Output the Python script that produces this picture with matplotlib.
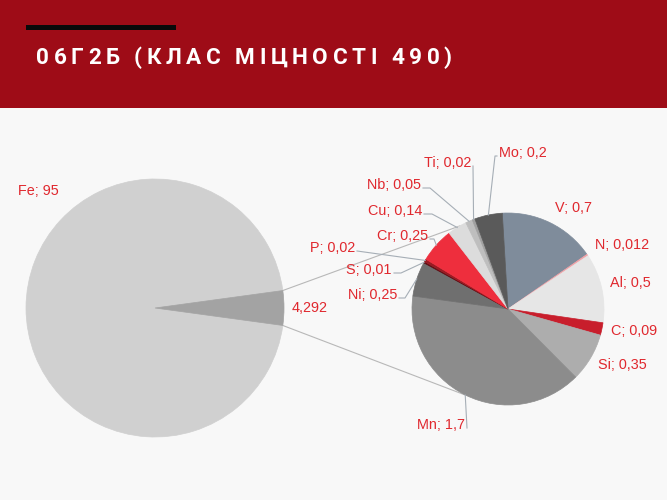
import matplotlib
matplotlib.use('Agg')
import matplotlib.pyplot as plt
from matplotlib.patches import Rectangle
import numpy as np

# ---------------- data ----------------
title = "06Г2Б (КЛАС МІЦНОСТІ 490)"
main_names = ["Fe", ""]
main_values = [95, 4.292]
sec_names = ["V", "N", "Al", "C", "Si", "Mn", "Ni", "S", "P", "Cr", "Cu", "Nb", "Ti", "Mo"]
sec_values = [0.7, 0.012, 0.5, 0.09, 0.35, 1.7, 0.25, 0.01, 0.02, 0.25, 0.14, 0.05, 0.02, 0.2]

main_colors = ["#D0D0D0", "#A3A3A3"]
sec_colors = ["#7F8C9B", "#F2A3A8", "#E6E6E6", "#C81E2C", "#ADADAD", "#8C8C8C", "#6F6F6F",
              "#5C0A10", "#9A1A22", "#EE2E3D", "#DCDCDC", "#BEBEBE", "#A0A0A0", "#5A5A5A"]

W, H = 667, 500
def Y(y):
    return H - y

def fmt(v):
    s = ("%g" % v).replace('.', ',')
    return s

fig = plt.figure(figsize=(6.67, 5), dpi=100, facecolor='#F8F8F8')
ax = fig.add_axes([0, 0, 1, 1])
ax.set_facecolor('#F8F8F8')

# header band
ax.add_patch(Rectangle((0, Y(108)), W, 108, color='#9E0C17', lw=0, zorder=1))
ax.add_patch(Rectangle((26, Y(30)), 150, 5, color='#0A0A0A', lw=0, zorder=2))

# ---------------- pies ----------------
lab_font = dict(family='Liberation Sans', size=10.4, color='#E0282E')

main_c = (155, Y(308)); main_r = 129
other_ang = 360.0 * main_values[1] / sum(main_values)
mw, _ = ax.pie(main_values, center=main_c, radius=main_r, colors=main_colors,
               startangle=other_ang / 2, counterclock=True, frame=True,
               wedgeprops=dict(linewidth=0.5))

sec_c = (508, Y(309)); sec_r = 96
sw, _ = ax.pie(sec_values, center=sec_c, radius=sec_r, colors=sec_colors,
               startangle=93.4, counterclock=False, frame=True,
               wedgeprops=dict(linewidth=0.5))
for w in list(mw) + list(sw):
    w.set_edgecolor(w.get_facecolor())

# connector lines between pies
for a_main, a_sec in [(other_ang / 2, 120), (-other_ang / 2, 244)]:
    p1 = (main_c[0] + main_r * np.cos(np.radians(a_main)), main_c[1] + main_r * np.sin(np.radians(a_main)))
    p2 = (sec_c[0] + sec_r * np.cos(np.radians(a_sec)), sec_c[1] + sec_r * np.sin(np.radians(a_sec)))
    ax.plot([p1[0], p2[0]], [p1[1], p2[1]], color='#B8B8B8', lw=0.8, zorder=0.5)

# main labels
ax.text(18, Y(191), f"{main_names[0]}; {fmt(main_values[0])}", ha='left', va='center', **lab_font)
ax.text(292, Y(308), fmt(main_values[1]), ha='left', va='center', **lab_font)

# secondary labels: (x, y_screen, ha, stub, leader)
sec_layout = {
    "V":  (555, 208, 'left', 0, False),
    "N":  (595, 245, 'left', 0, False),
    "Al": (610, 283, 'left', 0, False),
    "C":  (611, 331, 'left', 0, False),
    "Si": (598, 365, 'left', 0, False),
    "Mn": (465, 425, 'right', 0, True),
    "Ni": (397, 295, 'right', 6, True),
    "S":  (392, 270, 'right', 7, True),
    "P":  (355, 248, 'right', 0, True),
    "Cr": (428, 236, 'right', 4, True),
    "Cu": (422, 211, 'right', 8, True),
    "Nb": (421, 185, 'right', 7, True),
    "Ti": (471, 163, 'right', 0, True),
    "Mo": (499, 153, 'left', 2, True),
}

for name, val, w in zip(sec_names, sec_values, sw):
    x, ys, ha, stub, leader = sec_layout[name]
    ax.text(x, Y(ys), f"{name}; {fmt(val)}", ha=ha, va='center', zorder=5, **lab_font)
    if leader:
        mid = np.radians((w.theta1 + w.theta2) / 2)
        wp = (sec_c[0] + sec_r * np.cos(mid), sec_c[1] + sec_r * np.sin(mid))
        d = 1 if ha == 'right' else -1
        ax_ = x + 2 * d
        ay = Y(ys + 3)
        ex = ax_ + d * stub
        ax.plot([ax_, ex, wp[0]], [ay, ay, wp[1]], color='#A6AEB6', lw=0.8, zorder=4)

ax.set_xlim(0, W)
ax.set_ylim(0, H)
ax.set_aspect('auto')
ax.axis('off')

# ---------------- title with letter spacing ----------------
fig.canvas.draw()
renderer = fig.canvas.get_renderer()
tfont = dict(family='Roboto', weight='bold', size=16.2, color='white')

def width(s):
    t = ax.text(0, 0, s, **tfont)
    bb = t.get_window_extent(renderer)
    t.remove()
    return bb.width

n = len(title)
natural = width(title)
left, right = 36, 452
spacing = (right - left - natural) / (n - 1)
for i, ch in enumerate(title):
    if ch == ' ':
        continue
    xr = left + width(title[:i + 1]) + i * spacing
    ax.text(xr, Y(64), ch, ha='right', va='baseline', zorder=6, **tfont)

fig.savefig('out.png', dpi=100, facecolor=fig.get_facecolor())
